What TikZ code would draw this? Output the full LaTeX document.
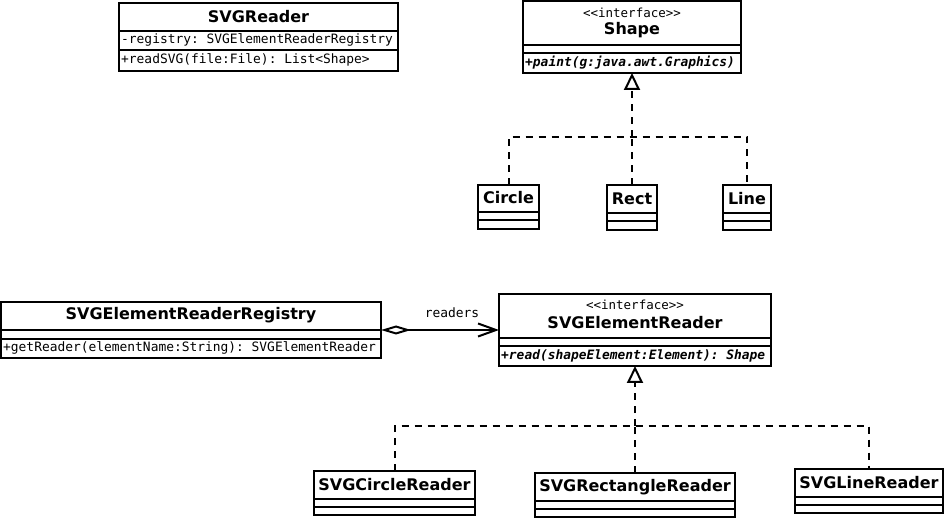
\documentclass[tikz,border=0pt]{standalone}
\usepackage{fontspec}
\setmainfont{DejaVu Sans}
\setmonofont{DejaVu Sans Mono}
\usetikzlibrary{arrows.meta,calc}
\newcommand\UMLclass[7]{%
  \node[classbox, minimum width=#4pt, minimum height=#5pt] (#1) at (#2,#3) {};
  \draw[compline] ([yshift=-#6pt]#1.north west) -- ([yshift=-#6pt]#1.north east);
  \draw[compline] ([yshift=-#7pt]#1.north west) -- ([yshift=-#7pt]#1.north east);
}
\begin{document}
\begin{tikzpicture}[x=1pt,y=-1pt,
  classbox/.style={draw, line width=2pt, anchor=north west, inner sep=0pt, outer sep=0pt},
  cname/.style={font=\fontsize{16}{18}\selectfont\bfseries, inner sep=0pt},
  stereo/.style={font=\fontsize{12.5}{14}\selectfont\ttfamily, inner sep=0pt},
  member/.style={font=\fontsize{12.9}{15}\selectfont\ttfamily, inner sep=0pt, anchor=west},
  absmember/.style={member, font=\fontsize{12.9}{15}\selectfont\ttfamily\bfseries\itshape},
  compline/.style={line width=2pt},
  realize/.style={line width=2pt, dash pattern=on 7pt off 6pt},
  gentip/.style={-{Triangle[open, length=17pt, width=16pt]}},
  aggr/.style={line width=2pt, {Diamond[open, length=30pt, width=9pt]}-{Straight Barb[length=18pt, width=13pt]}},
]
\useasboundingbox (0,0) rectangle (945,518);

% SVGReader
\UMLclass{svgreader}{119}{3}{279}{68}{28}{47}
\node[cname] (svgreadername) at (258.5,17) {SVGReader};
\node[member] (svgreaderattr) at (121,40) {-registry: SVGElementReaderRegistry};
\node[member] (svgreaderop) at (121,60) {+readSVG(file:File): List<Shape>};

% Shape
\UMLclass{shape}{523}{1}{218}{72}{44}{52}
\node[stereo] (shapestereo) at (632,13) {<<interface>>};
\node[cname] (shapename) at (632,30) {Shape};
\node[absmember] (shapeop) at (525,63) {+paint(g:java.awt.Graphics)};

% Circle, Rect, Line
\UMLclass{circle}{478}{185}{61}{44}{27}{35}
\node[cname] (circlename) at (508.5,198) {Circle};
\UMLclass{rect}{607}{185}{50}{45}{28}{36}
\node[cname] (rectname) at (632,199) {Rect};
\UMLclass{line}{723}{185}{48}{45}{28}{36}
\node[cname] (linename) at (747,199) {Line};

\coordinate (shapejoin) at (632,137);
\draw[realize, gentip] (shapejoin) -- (shape.south);
\draw[realize] (circle.north) |- (shapejoin) -| (line.north);
\draw[realize] (rect.north) -- (shapejoin);

% SVGElementReaderRegistry
\UMLclass{registry}{1}{302}{380}{56}{28}{37}
\node[cname] (registryname) at (191,315) {SVGElementReaderRegistry};
\node[member] (registryop) at (3,348) {+getReader(elementName:String): SVGElementReader};

% SVGElementReader
\UMLclass{reader}{499}{294}{272}{72}{44}{52}
\node[stereo] (readerstereo) at (635,305) {<<interface>>};
\node[cname] (readername) at (635,323) {SVGElementReader};
\node[absmember] (readerop) at (501,356) {+read(shapeElement:Element): Shape};

\draw[aggr] (registry.east) -- (reader.west);
\node[stereo, font=\fontsize{12.9}{15}\selectfont\ttfamily] (readerslabel) at (452,313) {readers};

% concrete readers
\UMLclass{svgcirclereader}{314}{471}{161}{44}{28}{36}
\node[cname] (svgcirclereadername) at (394.5,485) {SVGCircleReader};
\UMLclass{svgrectreader}{535}{473}{200}{44}{28}{36}
\node[cname] (svgrectreadername) at (635,487) {SVGRectangleReader};
\UMLclass{svglinereader}{795}{469}{148}{44}{28}{36}
\node[cname] (svglinereadername) at (869,483) {SVGLineReader};

\coordinate (readerjoin) at (635,426);
\draw[realize, gentip] (readerjoin) -- (reader.south);
\draw[realize] (svgcirclereader.north) |- (readerjoin) -| (svglinereader.north);
\draw[realize] (svgrectreader.north) -- (readerjoin);
\end{tikzpicture}
\end{document}
